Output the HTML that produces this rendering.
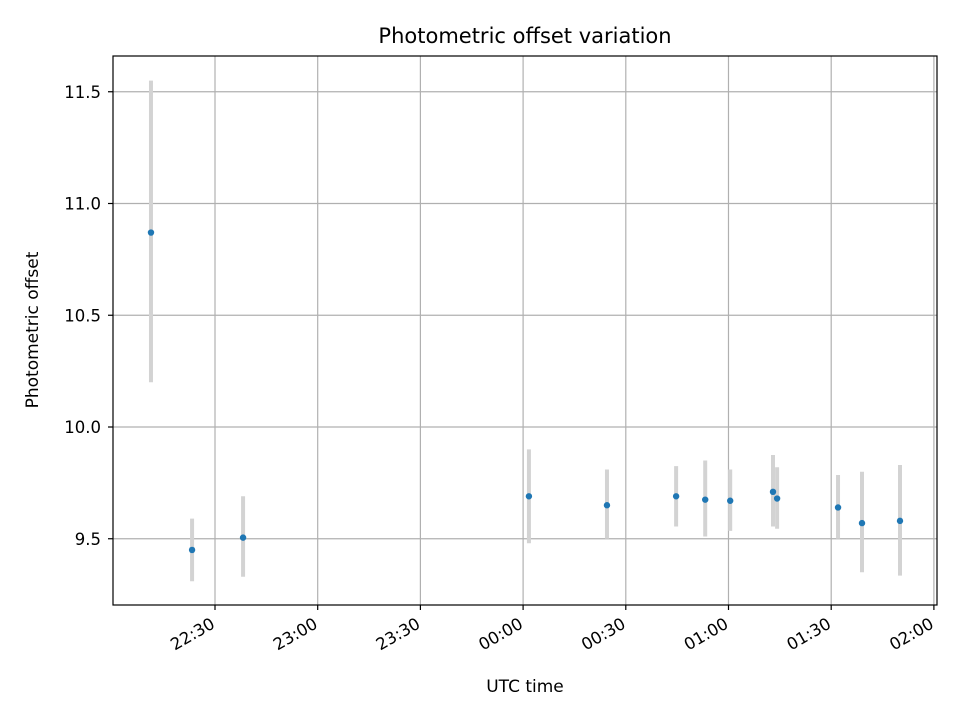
<!DOCTYPE html>
<html><head><meta charset="utf-8"><style>
body{margin:0;background:#fff;}
svg text{font-family:"DejaVu Sans","Liberation Sans",sans-serif;fill:#000;}
</style></head><body>
<svg id="chart" width="960" height="720" xmlns="http://www.w3.org/2000/svg">
<rect width="960" height="720" fill="#fff"/>
<g id="grid"></g>
<g id="marks"></g>
<rect x="113" y="56" width="824" height="549" fill="none" stroke="#000" stroke-width="1.2"/>
<g id="ticks"></g>
<text x="525" y="43" font-size="21" text-anchor="middle">Photometric offset variation</text>
<text x="525" y="692" font-size="17" text-anchor="middle">UTC time</text>
<text x="38" y="330" font-size="17" text-anchor="middle" transform="rotate(-90 38 330)">Photometric offset</text>
</svg>
<script>
// minutes since 22:00 UTC
const times=[11.3,23.3,38.2,121.7,144.5,164.7,173.2,180.5,193,194.2,212,219,230.1];
const offsets=[10.87,9.45,9.505,9.69,9.65,9.69,9.675,9.67,9.71,9.68,9.64,9.57,9.58];
const errLow=[10.2,9.31,9.33,9.48,9.50,9.555,9.51,9.535,9.555,9.545,9.50,9.35,9.335];
const errHigh=[11.55,9.59,9.69,9.90,9.81,9.825,9.85,9.81,9.875,9.82,9.785,9.80,9.83];
const xTickMinutes=[30,60,90,120,150,180,210,240];
const xTickLabels=["22:30","23:00","23:30","00:00","00:30","01:00","01:30","02:00"];
const yTickValues=[9.5,10.0,10.5,11.0,11.5];
const yTickLabels=["9.5","10.0","10.5","11.0","11.5"];

const NS="http://www.w3.org/2000/svg";
function X(t){return 215+(t-30)*3.4233;}
function Y(v){return 427-(v-10)*223.5;}
function mk(parent,tag,attrs){const e=document.createElementNS(NS,tag);for(const k in attrs)e.setAttribute(k,attrs[k]);parent.appendChild(e);return e;}
const grid=document.getElementById('grid'),marks=document.getElementById('marks'),ticks=document.getElementById('ticks');
xTickMinutes.forEach((t,i)=>{
  const x=X(t);
  const g=mk(grid,'line',{x1:x,x2:x,y1:56,y2:605,stroke:'#b0b0b0','stroke-width':1.2});
  
  
  const tk=mk(ticks,'line',{x1:x,x2:x,y1:605,y2:610,stroke:'#000','stroke-width':1.2});
  
  
  const ax=x+1, ay=627;
  const tx=mk(ticks,'text',{x:ax,y:ay,'font-size':16.5,'text-anchor':'end',transform:`rotate(-30 ${ax} ${ay})`});
  tx.textContent=xTickLabels[i];
  
  
});
yTickValues.forEach((v,i)=>{
  const y=Y(v);
  const g=mk(grid,'line',{x1:113,x2:937,y1:y,y2:y,stroke:'#b0b0b0','stroke-width':1.2});
  
  
  const tk=mk(ticks,'line',{x1:108,x2:113,y1:y,y2:y,stroke:'#000','stroke-width':1.2});
  
  
  const tx=mk(ticks,'text',{x:101,y:y+6,'font-size':16.5,'text-anchor':'end'});
  tx.textContent=yTickLabels[i];
  
  
});
times.forEach((t,i)=>{
  const x=X(t);
  const eb=mk(marks,'line',{x1:x,x2:x,y1:Y(errHigh[i]),y2:Y(errLow[i]),stroke:'#d3d3d3','stroke-width':4});
  
  
});
times.forEach((t,i)=>{
  const c=mk(marks,'circle',{cx:X(t),cy:Y(offsets[i]),r:3.2,fill:'#1f77b4'});
  
  
});
</script>
</body></html>
